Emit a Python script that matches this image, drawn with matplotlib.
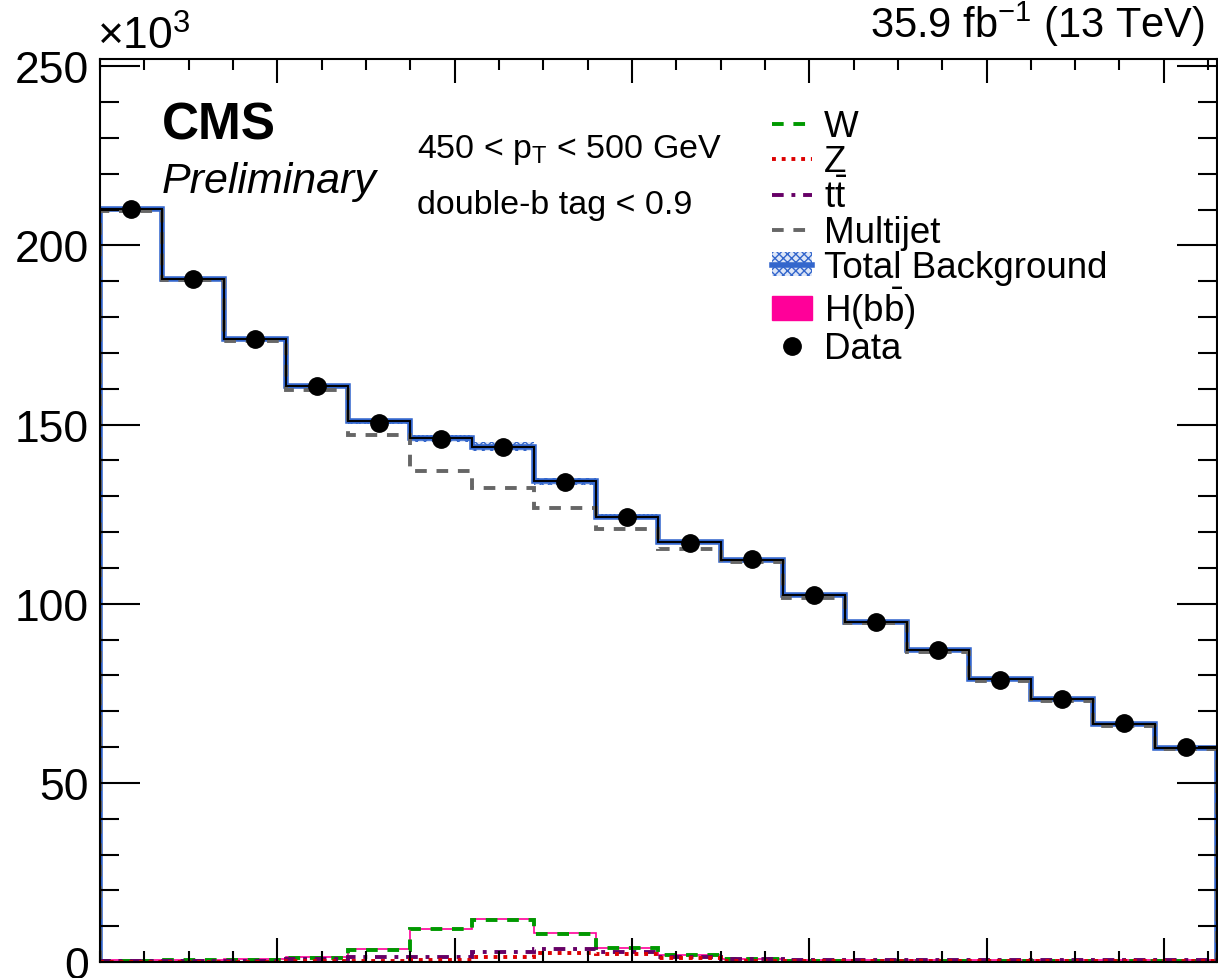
import numpy as np
import matplotlib.pyplot as plt
from matplotlib.lines import Line2D
from matplotlib.patches import Patch

plt.rcParams['font.family'] = ['Liberation Sans', 'DejaVu Sans']
plt.rcParams['mathtext.fontset'] = 'custom'
plt.rcParams['mathtext.rm'] = 'Liberation Sans'
plt.rcParams['mathtext.it'] = 'Liberation Sans:italic'
plt.rcParams['hatch.linewidth'] = 1.0

# soft-drop mass bins, 7 GeV wide (values in units of 1000 events)
edges = np.arange(40, 167, 7)
data = [210.2, 190.6, 173.8, 160.8, 150.4, 146.0, 143.7, 133.9, 124.2,
        116.9, 112.4, 102.4, 95.0, 87.0, 78.6, 73.3, 66.6, 59.9]
total_bkg = [210.2, 190.6, 174.0, 160.7, 150.9, 146.1, 143.8, 134.1, 124.2,
             117.1, 112.2, 102.5, 95.0, 87.0, 78.9, 73.3, 66.3, 59.6]
total_unc = [0.5, 0.5, 0.5, 0.5, 0.7, 1.1, 1.3, 0.9, 0.7,
             0.5, 0.4, 0.4, 0.4, 0.3, 0.3, 0.3, 0.3, 0.3]
multijet = [209.7, 190.4, 173.4, 159.6, 147.2, 137.1, 132.3, 126.7, 120.8,
            115.2, 111.5, 101.7, 94.5, 86.5, 78.4, 72.8, 65.8, 59.4]
w_bkg = [0.4, 0.5, 0.6, 1.1, 3.3, 9.1, 11.7, 7.9, 3.8,
         1.9, 0.7, 0.4, 0.4, 0.4, 0.4, 0.4, 0.4, 0.4]
z_bkg = [0.1, 0.1, 0.1, 0.2, 0.2, 0.5, 1.5, 2.6, 2.1,
         1.0, 0.3, 0.2, 0.2, 0.2, 0.2, 0.2, 0.2, 0.2]
tt_bkg = [0.3, 0.3, 0.4, 0.7, 1.5, 1.4, 2.7, 3.5, 2.7,
          1.5, 0.7, 0.6, 0.6, 0.6, 0.6, 0.6, 0.6, 0.6]
hbb = [0.5, 0.6, 0.7, 1.4, 3.5, 9.3, 11.9, 8.2, 4.0,
       2.0, 0.8, 0.5, 0.5, 0.5, 0.5, 0.5, 0.5, 0.5]

blue = '#3366cc'
green = '#009900'
red = '#dd0000'
purple = '#660066'
gray = '#666666'
pink = '#ff0099'

fig = plt.figure(figsize=(12.18, 9.79), dpi=100)
ax = fig.add_axes([100 / 1218, 16 / 979, 1117 / 1218, 903 / 979])

centers = 0.5 * (edges[1:] + edges[:-1])
tb = np.array(total_bkg)
unc = np.array(total_unc)

ax.stairs(tb + unc, edges, baseline=tb - unc, fill=True, facecolor='#dde6f7',
          edgecolor=blue, hatch='xxxx', linewidth=0)
ax.stairs(total_bkg, edges, baseline=0, color=blue, linewidth=4.0)
ax.stairs(multijet, edges, baseline=0, color=gray, linewidth=2.8, linestyle=(0, (3, 2.5)))
ax.stairs(total_bkg, edges, baseline=0, color='black', linewidth=1.4)
ax.stairs(hbb, edges, baseline=0, color=pink, linewidth=1.2)
ax.stairs(w_bkg, edges, baseline=0, color=green, linewidth=2.8, linestyle=(0, (3, 2.5)))
ax.stairs(tt_bkg, edges, baseline=0, color=purple, linewidth=2.8, linestyle=(0, (3, 2, 1, 2)))
ax.stairs(z_bkg, edges, baseline=0, color=red, linewidth=2.8, linestyle=(0, (1, 1.5)))
ax.errorbar(centers, data, yerr=np.sqrt(np.array(data) / 1000.0), fmt='o', color='black',
            markersize=12.5, elinewidth=1.5, capsize=0, zorder=5)

ax.set_xlim(40, 166)
ax.set_ylim(0, 252)
ax.set_xticks(np.arange(60, 166, 20))
ax.set_xticks(np.arange(40, 167, 5), minor=True)
ax.set_yticks(np.arange(0, 251, 50))
ax.set_yticks(np.arange(0, 251, 10), minor=True)
ax.tick_params(axis='both', which='both', direction='in', top=True, right=True, width=1.5)
ax.tick_params(axis='x', which='major', length=17, labelbottom=False)
ax.tick_params(axis='x', which='minor', length=8)
ax.tick_params(axis='y', which='major', length=29, labelsize=32, pad=8)
ax.tick_params(axis='y', which='minor', length=14)
for sp in ax.spines.values():
    sp.set_linewidth(1.5)

fig.text(97 / 1218, 1 - 50 / 979, r'$\times$10$^{3}$', fontsize=32, ha='left', va='baseline')
fig.text(1205 / 1218, 1 - 38 / 979, r'35.9 fb$^{-1}$ (13 TeV)', fontsize=30,
         ha='right', va='baseline')

ax.text((162 - 100) / 1117, (963 - 140) / 903, 'CMS', transform=ax.transAxes,
        fontsize=37, fontweight='bold', ha='left', va='baseline')
ax.text((162 - 100) / 1117, (963 - 193) / 903, 'Preliminary', transform=ax.transAxes,
        fontsize=31, style='italic', ha='left', va='baseline')
ax.text((417 - 100) / 1117, (963 - 158) / 903, r'450 < p$_{\rm T}$ < 500 GeV',
        transform=ax.transAxes, fontsize=24.5, ha='left', va='baseline')
ax.text((417 - 100) / 1117, (963 - 214) / 903, 'double-b tag < 0.9',
        transform=ax.transAxes, fontsize=24.5, ha='left', va='baseline')

handles = [
    Line2D([], [], color=green, linewidth=2.8, linestyle=(0, (3, 2.5))),
    Line2D([], [], color=red, linewidth=2.8, linestyle=(0, (1, 1.5))),
    Line2D([], [], color=purple, linewidth=2.8, linestyle=(0, (3, 2, 1, 2))),
    Line2D([], [], color=gray, linewidth=2.8, linestyle=(0, (3, 2.5))),
    (Patch(facecolor='#dde6f7', edgecolor=blue, hatch='xxxx', linewidth=0),
     Line2D([], [], color=blue, linewidth=4.0)),
    Patch(facecolor=pink, edgecolor=pink),
    Line2D([], [], color='black', marker='o', markersize=12.5, linestyle='none'),
]
labels = ['W', 'Z', r't$\bar{\rm t}$', 'Multijet', 'Total Background', r'H(b$\bar{\rm b}$)', 'Data']
leg = ax.legend(handles, labels, loc='upper left',
                bbox_to_anchor=((772 - 100) / 1117, (963 - 110) / 903),
                frameon=False, fontsize=26.5, handlelength=1.1, handleheight=0.6,
                handletextpad=0.3, labelspacing=0.0, borderpad=0, borderaxespad=0)

fig.savefig('out.png', dpi=100)
